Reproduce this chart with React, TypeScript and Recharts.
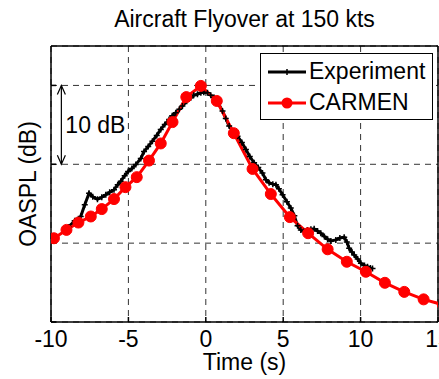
import React from 'react';
import { LineChart, Line, XAxis, YAxis, CartesianGrid, ReferenceLine } from 'recharts';

// flyover time (s) and OASPL (dB)
const expTime = [
  -8.86, -8.47, -8.08, -7.82, -7.54, -7.3, -7.0, -6.72, -6.46, -6.21, -5.93, -5.69, -5.49, -5.24,
  -5.02, -4.78, -4.52, -4.2, -3.99, -3.72, -3.45, -3.17, -2.91, -2.65, -2.37, -2.17, -1.94, -1.71,
  -1.51, -1.23, -0.97, -0.78, -0.54, -0.32, -0.13, 0.11, 0.32, 0.54, 0.81, 1.08, 1.29, 1.51, 1.78,
  2.05, 2.33, 2.59, 2.84, 3.12, 3.39, 3.66, 3.88, 4.09, 4.33, 4.53, 4.72, 4.96, 5.24, 5.49, 5.72,
  5.93, 6.14, 6.33, 6.56, 6.79, 7.0, 7.22, 7.43, 7.66, 7.87, 8.08, 8.4, 8.66, 8.94, 9.11, 9.26,
  9.44, 9.59, 9.81, 10.02, 10.25, 10.45, 10.63, 10.77,
];
const expLevel = [
  72.06, 72.83, 73.38, 74.87, 76.33, 75.89, 75.57, 75.82, 76.14, 76.46, 76.78, 77.41, 77.86, 78.56,
  79.07, 79.45, 79.96, 80.73, 81.62, 82.25, 82.93, 83.66, 84.42, 85.06, 85.69, 86.14, 86.55, 86.97,
  87.39, 87.99, 88.43, 88.75, 88.88, 89.07, 89.13, 89.07, 88.75, 88.46, 87.73, 86.75, 85.82, 84.84,
  84.23, 83.57, 82.76, 81.87, 80.98, 80.18, 79.58, 78.9, 78.05, 77.67, 77.48, 77.41, 76.9, 76.14,
  75.25, 74.45, 73.46, 72.19, 71.68, 71.49, 71.68, 71.75, 71.81, 71.55, 71.26, 70.85, 70.5, 70.28,
  70.41, 70.66, 70.75, 70.15, 69.35, 68.88, 68.5, 67.99, 67.44, 67.16, 67.01, 66.84, 66.8,
];
const carmenTime = [
  -9.81, -9.0, -8.23, -7.43, -6.72, -5.93, -5.19, -4.46, -3.67, -2.91, -2.15, -1.26, -0.32, 0.71,
  1.81, 3.02, 4.2, 5.43, 6.61, 7.87, 9.11, 10.34, 11.57, 12.82, 14.07, 15.31,
];
const carmenLevel = [
  70.62, 71.68, 72.61, 73.38, 74.32, 75.59, 77.1, 78.37, 80.47, 82.64, 85.35, 88.52, 89.94, 88.03,
  83.94, 79.41, 76.23, 73.3, 71.26, 69.22, 67.64, 66.37, 64.97, 63.82, 62.87, 62.2,
];
const xTicks = [-10, -5, 0, 5, 10, 15];
const yTicks = [60, 70, 80, 90];
const seriesNames = ['Experiment', 'CARMEN'];
const seriesColors = ['#000000', '#ff0000'];

const experiment = expTime.map((t, i) => ({ t, level: expLevel[i] }));
const carmen = carmenTime.map((t, i) => ({ t, level: carmenLevel[i] }));

const FONT = '"Liberation Sans", Arial, Helvetica, sans-serif';

const PlusDot = (props: any) => {
  const { cx, cy, index } = props;
  if (cx == null || cy == null) return null;
  return (
    <path
      key={`plus-${index}`}
      d={`M${cx - 3},${cy}h6M${cx},${cy - 3}v6`}
      stroke="#000"
      strokeWidth={1.5}
    />
  );
};

const DoubleArrow = (props: any) => {
  const { x1, y1, x2, y2 } = props;
  const top = Math.min(y1, y2);
  const bot = Math.max(y1, y2);
  return (
    <g stroke="#000" strokeWidth={1.2} fill="none">
      <line x1={x1} y1={top} x2={x2} y2={bot} />
      <path d={`M${x1 - 4},${top + 9}L${x1},${top}L${x1 + 4},${top + 9}`} />
      <path d={`M${x1 - 4},${bot - 9}L${x1},${bot}L${x1 + 4},${bot - 9}`} />
    </g>
  );
};

const LegendBox = () => (
  <div
    style={{
      position: 'absolute',
      left: 260,
      top: 53,
      width: 171,
      height: 65,
      border: '1px solid #000',
      background: '#fff',
      fontFamily: FONT,
      fontSize: 23,
      color: '#000',
    }}
  >
    {seriesNames.map((name, i) => (
      <div
        key={name}
        style={{ position: 'absolute', left: 7, top: 2 + i * 31, height: 31, display: 'flex', alignItems: 'center' }}
      >
        <svg width={38} height={14} style={{ marginRight: 3 }}>
          <line x1={0} y1={7} x2={38} y2={7} stroke={seriesColors[i]} strokeWidth={3} />
          {i === 0 ? (
            <path d="M16,7h6M19,4v6" stroke="#000" strokeWidth={1.5} />
          ) : (
            <circle cx={19} cy={7} r={5.5} fill={seriesColors[i]} />
          )}
        </svg>
        <span style={{ lineHeight: '31px' }}>{name}</span>
      </div>
    ))}
  </div>
);

const App: React.FC = () => {
  return (
    <div
      style={{
        position: 'absolute',
        left: 0,
        top: 0,
        width: 439,
        height: 379,
        overflow: 'hidden',
        background: '#fff',
        fontFamily: FONT,
      }}
    >
      <div
        style={{
          position: 'absolute',
          left: 51,
          width: 387,
          top: 6,
          textAlign: 'center',
          fontSize: 23,
          lineHeight: '26px',
          color: '#000',
        }}
      >
        Aircraft Flyover at 150 kts
      </div>
      <LineChart width={470} height={379} margin={{ top: 46, right: 32, left: 0, bottom: 0 }}>
        <CartesianGrid stroke="#333" strokeDasharray="6 5" strokeWidth={1} />
        <XAxis
          type="number"
          dataKey="t"
          domain={[-10, 15]}
          ticks={xTicks}
          interval={0}
          allowDataOverflow
          height={57}
          tickSize={-5}
          tickMargin={14}
          stroke="#000"
          strokeWidth={1.5}
          tick={{ fill: '#000', fontSize: 23, fontFamily: FONT }}
          label={{ value: 'Time (s)', position: 'insideBottom', offset: 9, fill: '#000', fontSize: 23, fontFamily: FONT }}
        />
        <YAxis
          type="number"
          domain={[60, 95]}
          ticks={yTicks}
          interval={0}
          allowDataOverflow
          width={51}
          tickSize={-5}
          tickFormatter={() => ''}
          stroke="#000"
          strokeWidth={1.5}
          label={{ value: 'OASPL (dB)', angle: -90, position: 'center', dx: 2, fill: '#000', fontSize: 23, fontFamily: FONT }}
        />
        <ReferenceLine x={15} stroke="#000" strokeWidth={1.5} ifOverflow="visible" />
        <ReferenceLine y={95} stroke="#000" strokeWidth={1.5} ifOverflow="visible" />
        <ReferenceLine
          segment={[{ x: -9.33, y: 80 }, { x: -9.33, y: 90 }]}
          ifOverflow="visible"
          shape={DoubleArrow}
          label={{ value: '10 dB', position: 'right', offset: 4, fill: '#000', fontSize: 23, fontFamily: FONT }}
        />
        <Line
          data={experiment}
          dataKey="level"
          name={seriesNames[0]}
          type="linear"
          stroke={seriesColors[0]}
          strokeWidth={3}
          dot={<PlusDot />}
          isAnimationActive={false}
        />
        <Line
          data={carmen}
          dataKey="level"
          name={seriesNames[1]}
          type="linear"
          stroke={seriesColors[1]}
          strokeWidth={3}
          dot={{ r: 5.5, fill: seriesColors[1], stroke: seriesColors[1], strokeWidth: 1 }}
          isAnimationActive={false}
        />
      </LineChart>
      <LegendBox />
    </div>
  );
};

export default App;
